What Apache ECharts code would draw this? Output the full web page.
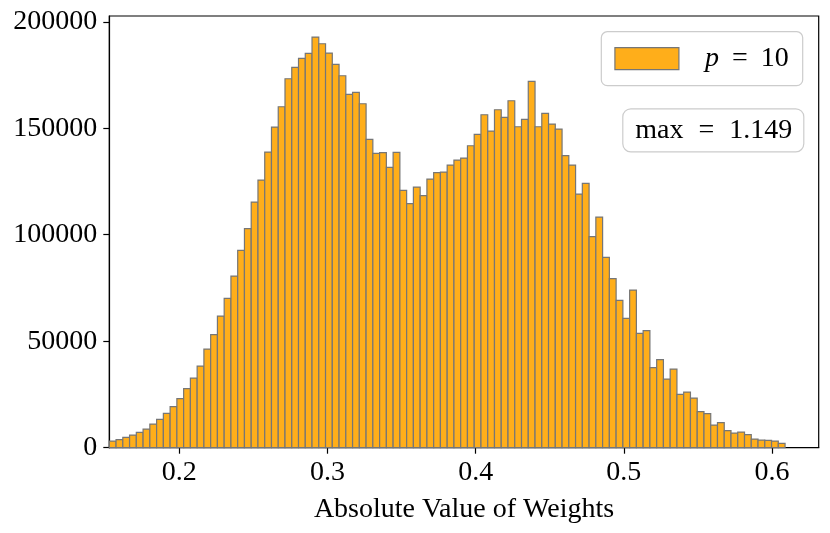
<!DOCTYPE html>
<html>
<head>
<meta charset="utf-8">
<script src="https://cdn.jsdelivr.net/npm/echarts@6/dist/echarts.min.js"></script>
<style>html,body{margin:0;padding:0;background:#fff;}#c{width:830px;height:533px;}</style>
</head>
<body>
<div id="c"></div>
<script>
// Histogram bin range and counts (100 equal-width bins)
const binLo = 0.1528;
const binHi = 0.6088;
const counts = [3130,3756,4852,5947,7199,8764,11112,13303,16120,19250,
23006,27700,32709,38343,46324,53054,61818,70112,80598,92648,
102821,115341,125670,138816,150553,160100,173246,178567,182792,185140,
192808,189678,185296,179975,174654,165890,166829,161508,144763,138190,
138503,131617,138659,120818,114558,122383,118314,126139,129113,129426,
132712,135060,135999,141789,147110,156344,148675,158691,155092,162917,
150710,154153,171994,150710,156970,151962,149614,137094,132712,119097,
124105,99065,108298,89362,79346,69173,60722,74025,53680,54932,
37560,41316,32239,36934,25040,26136,23319,16902,15963,10642,
11738,7982,6886,7356,6104,4069,3600,3443,3130,2035];
const xTicks = [0.2, 0.3, 0.4, 0.5, 0.6];
const yTicks = [0, 50000, 100000, 150000, 200000];
const xRange = [0.1528, 0.6315];
const yRange = [0, 202700];
const seriesName = 'p10';
const xLabel = 'Absolute Value of Weights';

const n = counts.length;
const w = (binHi - binLo) / n;
const data = counts.map((c, i) => [binLo + i * w, binLo + (i + 1) * w, c]);

const FONT = 'Liberation Serif';
const FS = 28;
const FILL = '#FFAE1A';
const EDGE = '#767676';

const chart = echarts.init(document.getElementById('c'), null, {renderer: 'canvas'});
chart.setOption({
  animation: false,
  backgroundColor: '#fff',
  grid: {left: 109.3, right: 11.3, top: 16, bottom: 85.3, show: true, borderColor: '#000', borderWidth: 1.2, backgroundColor: 'transparent'},
  xAxis: {
    type: 'value', min: xRange[0], max: xRange[1],
    splitLine: {show: false},
    axisLine: {show: true, onZero: false, lineStyle: {color: '#000', width: 1.2}},
    axisTick: {show: true, inside: false, length: 6, lineStyle: {color: '#000', width: 1.2}, customValues: xTicks},
    axisLabel: {customValues: xTicks, formatter: v => v.toFixed(1), color: '#000', fontFamily: FONT, fontSize: FS, margin: 11},
    name: xLabel, nameLocation: 'middle', nameGap: 48,
    nameTextStyle: {color: '#000', fontFamily: FONT, fontSize: FS}
  },
  yAxis: {
    type: 'value', min: yRange[0], max: yRange[1],
    splitLine: {show: false},
    axisLine: {show: true, lineStyle: {color: '#000', width: 1.2}},
    axisTick: {show: true, inside: false, length: 6, lineStyle: {color: '#000', width: 1.2}, customValues: yTicks},
    axisLabel: {customValues: yTicks, formatter: v => String(v), color: '#000', fontFamily: FONT, fontSize: FS, margin: 12}
  },
  legend: {
    show: true, right: 27.3, top: 31.7, orient: 'vertical',
    data: [{name: seriesName, icon: 'rect'}],
    itemWidth: 64, itemHeight: 22,
    padding: [13, 14, 13, 13],
    backgroundColor: 'rgba(255,255,255,0.8)', borderColor: '#cccccc', borderWidth: 1.2, borderRadius: 6,
    itemStyle: {color: FILL, borderColor: EDGE, borderWidth: 1.2},
    formatter: () => '{i|p} {e|=} 10',
    textStyle: {color: '#000', fontFamily: FONT, fontSize: FS, padding: [0, 0, 0, 21],
      rich: {
        i: {fontStyle: 'italic', fontFamily: FONT, fontSize: FS, color: '#000'},
        e: {fontFamily: FONT, fontSize: FS, color: '#000', padding: [0, 6, 0, 6]}
      }},
    selectedMode: false
  },
  title: {
    text: 'max {e|=} 1.149', right: 25.7, top: 108.3,
    padding: [8, 12, 8, 13],
    backgroundColor: 'rgba(255,255,255,0.8)', borderColor: '#cccccc', borderWidth: 1.2, borderRadius: 8,
    textStyle: {color: '#000', fontFamily: FONT, fontSize: FS, fontWeight: 'normal',
      rich: {e: {fontFamily: FONT, fontSize: FS, color: '#000', padding: [0, 8, 0, 8]}}}
  },
  series: [{
    type: 'custom', name: seriesName,
    itemStyle: {color: FILL, borderColor: EDGE, borderWidth: 1.2},
    encode: {x: [0, 1], y: 2},
    data: data,
    renderItem: function (params, api) {
      const p0 = api.coord([api.value(0), api.value(2)]);
      const p1 = api.coord([api.value(1), 0]);
      return {
        type: 'rect',
        shape: {x: p0[0], y: p0[1], width: p1[0] - p0[0], height: p1[1] - p0[1]},
        style: {fill: FILL, stroke: EDGE, lineWidth: 1.2}
      };
    }
  }]
});
</script>
</body>
</html>
